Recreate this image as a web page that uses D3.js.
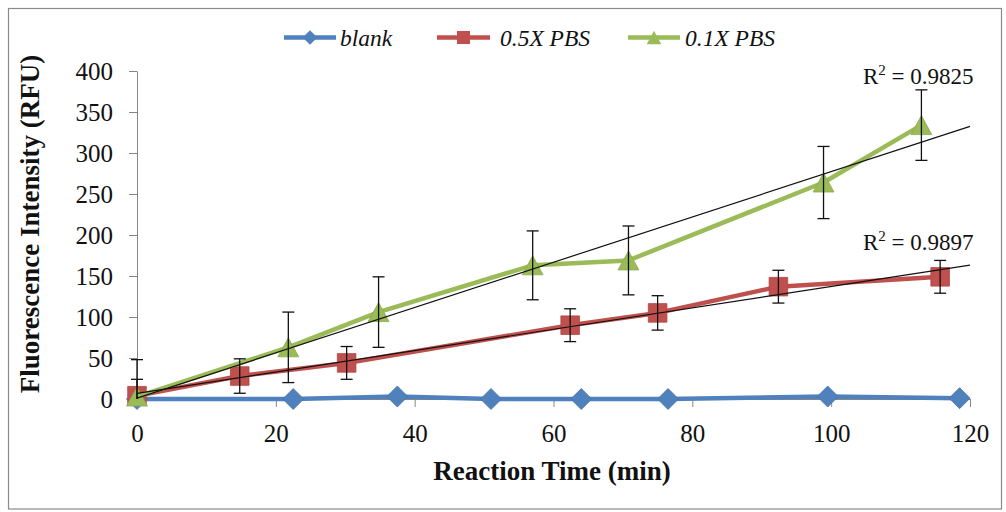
<!DOCTYPE html>
<meta charset="utf-8">
<style>
  body { margin: 0; background: #fff; }
  text { font-family: "Liberation Serif", serif; fill: #111; }
  .axis path, .axis line { stroke: #868686; stroke-width: 1px; }
  .axis text { font-family: "Liberation Serif", serif; font-size: 25px; fill: #111; }
  .err line { stroke: #111; stroke-width: 1.3px; }
  .trend { stroke: #111; stroke-width: 1.2px; fill: none; }
  .legend text { font-style: italic; font-size: 23.5px; }
  .title { font-weight: bold; font-size: 27px; }
  .r2 { font-size: 23px; }
</style>
<svg width="1006" height="512"></svg>
<script src="https://d3js.org/d3.v7.min.js"></script>
<script>
// ---- data ----
var blankTime = [0, 22.5, 37.5, 51, 64, 76.5, 99.5, 118.5];
var blankRFU  = [0, 0, 3, 0, 0, 0, 3, 1];

var pbs05Time = [0, 14.8, 30.2, 62.4, 75, 92.4, 115.7];
var pbs05RFU  = [4, 28, 44, 90, 105, 137, 149];
var pbs05Err  = [20, 21, 20, 20, 21, 20, 20];

var pbs01Time = [0, 21.8, 34.8, 57, 70.8, 98.9, 113];
var pbs01RFU  = [3, 63, 106, 163, 169, 264, 334];
var pbs01Err  = [45, 43, 43, 42, 42, 44, 43];

var xTicks = [0, 20, 40, 60, 80, 100, 120];
var yTicks = [0, 50, 100, 150, 200, 250, 300, 350, 400];
var r2Labels = ["0.9825", "0.9897"];

var svg = d3.select("svg");

svg.append("rect")
    .attr("width", "100%")
    .attr("height", "100%")
    .attr("fill", "#fff");

// chart frame
svg.append("rect")
    .attr("x", 8.5).attr("y", 8.5)
    .attr("width", 993).attr("height", 500.5)
    .attr("fill", "none")
    .attr("stroke", "#8a8a8a")
    .attr("stroke-width", 1.2);

var x = d3.scaleLinear().domain([0, 120]).range([137, 970]);
var y = d3.scaleLinear().domain([0, 400]).range([399, 71]);

// plot area clip (error bars are cut at the axes like in excel)
svg.append("clipPath").attr("id", "plot")
  .append("rect")
    .attr("x", x(0) - 10).attr("y", y(400))
    .attr("width", x(120) - x(0) + 20).attr("height", y(0) - y(400));

svg.append("g")
    .attr("class", "axis")
    .attr("transform", "translate(137,0)")
    .call(d3.axisLeft(y).tickValues(yTicks).tickSize(8).tickSizeOuter(0).tickPadding(16));

svg.append("g")
    .attr("class", "axis")
    .attr("transform", "translate(0,399)")
    .call(d3.axisBottom(x).tickValues(xTicks).tickSize(8).tickSizeOuter(0).tickPadding(17));

// axis titles
svg.append("text")
    .attr("class", "title")
    .attr("x", 552).attr("y", 480)
    .attr("text-anchor", "middle")
    .text("Reaction Time (min)");

svg.append("text")
    .attr("class", "title")
    .attr("transform", "translate(38.5,224) rotate(-90)")
    .attr("text-anchor", "middle")
    .text("Fluorescence Intensity (RFU)");

function zip(t, v, e) {
  return t.map(function(d, i) { return {t: d, v: v[i], e: e ? e[i] : 0}; });
}

function fit(t, v) {
  var mx = d3.mean(t), my = d3.mean(v), sxy = 0, sxx = 0;
  t.forEach(function(d, i) { sxy += (d - mx) * (v[i] - my); sxx += (d - mx) * (d - mx); });
  var b = sxy / sxx;
  return {a: my - b * mx, b: b};
}

var shapes = {
  diamond: function(s) { return "M0," + (-s) + "L" + s + ",0L0," + s + "L" + (-s) + ",0Z"; },
  square:  function(s) { return "M" + (-s) + "," + (-s) + "h" + (2 * s) + "v" + (2 * s) + "h" + (-2 * s) + "Z"; },
  triangle: function(s) { return "M0," + (-s) + "L" + (s * 1.1) + "," + s + "L" + (-s * 1.1) + "," + s + "Z"; }
};

var series = [
  {name: "blank",    color: "#4f81bd", shape: "diamond",  size: 10.5, data: zip(blankTime, blankRFU)},
  {name: "0.5X PBS", color: "#c0504d", shape: "square",   size: 9.3,  data: zip(pbs05Time, pbs05RFU, pbs05Err)},
  {name: "0.1X PBS", color: "#9bbb59", shape: "triangle", size: 9.5,  data: zip(pbs01Time, pbs01RFU, pbs01Err)}
];

var line = d3.line()
    .x(function(d) { return x(d.t); })
    .y(function(d) { return y(d.v); });

series.forEach(function(s) {
  svg.append("path")
      .datum(s.data)
      .attr("d", line)
      .attr("fill", "none")
      .attr("stroke", s.color)
      .attr("stroke-width", 4.5)
      .attr("stroke-linejoin", "round");

  svg.append("g").selectAll("path")
      .data(s.data)
      .enter()
      .append("path")
      .attr("transform", function(d) { return "translate(" + x(d.t) + "," + y(d.v) + ")"; })
      .attr("d", shapes[s.shape](s.size))
      .attr("fill", s.color)
      .attr("stroke", d3.color(s.color).darker(0.3))
      .attr("stroke-width", 0.8);
});

// error bars
series.slice(1).forEach(function(s) {
  var g = svg.append("g").attr("class", "err")
      .attr("clip-path", "url(#plot)")
      .selectAll("g")
      .data(s.data)
      .enter()
      .append("g");
  g.append("line")
      .attr("x1", function(d) { return x(d.t); })
      .attr("x2", function(d) { return x(d.t); })
      .attr("y1", function(d) { return y(d.v - d.e); })
      .attr("y2", function(d) { return y(d.v + d.e); });
  g.append("line")
      .attr("x1", function(d) { return x(d.t) - 6; })
      .attr("x2", function(d) { return x(d.t) + 6; })
      .attr("y1", function(d) { return y(d.v + d.e); })
      .attr("y2", function(d) { return y(d.v + d.e); });
  g.append("line")
      .attr("x1", function(d) { return x(d.t) - 6; })
      .attr("x2", function(d) { return x(d.t) + 6; })
      .attr("y1", function(d) { return y(d.v - d.e); })
      .attr("y2", function(d) { return y(d.v - d.e); });
});

// linear trendlines
var trends = [fit(pbs01Time, pbs01RFU), fit(pbs05Time, pbs05RFU)];
trends.forEach(function(f) {
  svg.append("line")
      .attr("class", "trend")
      .attr("x1", x(0)).attr("y1", y(f.a))
      .attr("x2", x(120)).attr("y2", y(f.a + f.b * 120));
});

// R^2 labels
var r2Y = [84, 250];
r2Labels.forEach(function(r, i) {
  var t = svg.append("text")
      .attr("class", "r2")
      .attr("x", 863).attr("y", r2Y[i]);
  t.append("tspan").text("R");
  t.append("tspan").attr("dy", -9).attr("font-size", 15).text("2");
  t.append("tspan").attr("dy", 9).text(" = " + r);
});

// legend
var legendPos = [{x0: 284, x1: 336, tx: 340}, {x0: 437, x1: 490, tx: 500}, {x0: 628, x1: 680, tx: 685}];
var legend = svg.selectAll(".legend")
    .data(series)
    .enter()
    .append("g")
    .attr("class", "legend");

legend.append("line")
    .attr("x1", function(d, i) { return legendPos[i].x0; })
    .attr("x2", function(d, i) { return legendPos[i].x1; })
    .attr("y1", 37.5).attr("y2", 37.5)
    .attr("stroke", function(d) { return d.color; })
    .attr("stroke-width", 4.5);

legend.append("path")
    .attr("transform", function(d, i) { return "translate(" + (legendPos[i].x0 + legendPos[i].x1) / 2 + ",37.5)"; })
    .attr("d", function(d) { return shapes[d.shape](d.size * 0.7); })
    .attr("fill", function(d) { return d.color; });

legend.append("text")
    .attr("x", function(d, i) { return legendPos[i].tx; })
    .attr("y", 46)
    .text(function(d) { return d.name; });
</script>
